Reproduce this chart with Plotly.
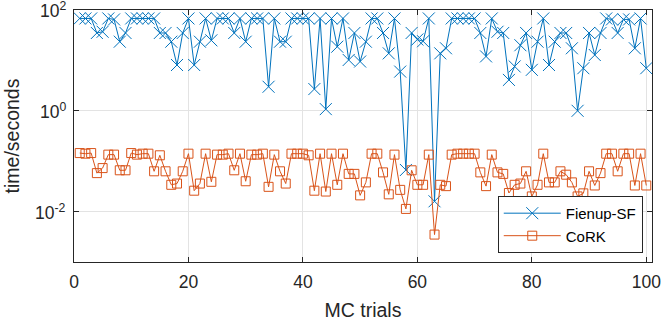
import math
import plotly.graph_objects as go

trials = list(range(1, 101))

fienup_sf = [
    68, 68, 68, 35, 37, 68, 65, 23.5, 35, 68,
    68, 68, 68, 68, 35, 35, 23.5, 8.1, 35, 68,
    8.1, 23.5, 68, 25, 68, 68, 68, 35, 68, 23.5,
    68, 68, 68, 3.0, 68, 23.5, 23.5, 68, 68, 68,
    68, 2.7, 68, 1.08, 68, 18.7, 68, 10.2, 35, 9.5,
    23.5, 68, 68, 35, 13.8, 68, 6.0, 0.067, 35, 26,
    24, 68, 0.016, 13.8, 17.4, 68, 68, 68, 68, 68,
    35, 12, 68, 37, 35, 4.1, 7.6, 20, 35, 6.5,
    23.5, 68, 8.1, 23.5, 35, 35, 17.4, 1.0, 7, 35,
    12.8, 35, 68, 65, 35, 65, 65, 17.4, 68, 7,
]

cork = [
    0.145, 0.141, 0.145, 0.058, 0.073, 0.135, 0.135, 0.066, 0.066, 0.145,
    0.135, 0.141, 0.141, 0.063, 0.131, 0.063, 0.034, 0.036, 0.063, 0.141,
    0.026, 0.036, 0.141, 0.039, 0.135, 0.135, 0.141, 0.066, 0.141, 0.040,
    0.135, 0.135, 0.141, 0.031, 0.135, 0.063, 0.036, 0.141, 0.141, 0.141,
    0.131, 0.026, 0.141, 0.025, 0.141, 0.034, 0.141, 0.056, 0.056, 0.021,
    0.038, 0.141, 0.141, 0.060, 0.022, 0.135, 0.027, 0.0113, 0.066, 0.034,
    0.034, 0.135, 0.0035, 0.034, 0.032, 0.135, 0.141, 0.141, 0.141, 0.141,
    0.060, 0.032, 0.135, 0.060, 0.056, 0.0234, 0.034, 0.036, 0.063, 0.020,
    0.034, 0.141, 0.038, 0.038, 0.063, 0.054, 0.038, 0.020, 0.023, 0.063,
    0.033, 0.058, 0.141, 0.141, 0.063, 0.141, 0.141, 0.033, 0.141, 0.033,
]

x_ticks = [0, 20, 40, 60, 80, 100]
y_ticks = [1e-2, 1e0, 1e2]
y_ticktext = ["10<sup>-2</sup>", "10<sup>0</sup>", "10<sup>2</sup>"]

BLUE = "#0072BD"
ORANGE = "#D95319"
AX = "#262626"
GRID = "#e3e3e3"
FONT = "Liberation Sans, Arial, sans-serif"

fig = go.Figure()
fig.add_trace(go.Scatter(
    x=trials, y=fienup_sf, mode="lines+markers", name="Fienup-SF",
    line=dict(color=BLUE, width=1),
    marker=dict(symbol="x-thin-open", size=12, line=dict(color=BLUE, width=1), color=BLUE),
))
fig.add_trace(go.Scatter(
    x=trials, y=cork, mode="lines+markers", name="CoRK",
    line=dict(color=ORANGE, width=1),
    marker=dict(symbol="square-open", size=9, line=dict(color=ORANGE, width=1), color=ORANGE),
))

# y tick labels as text annotations (log axis: annotation y is log10 of the value)
for val, txt in zip(y_ticks, y_ticktext):
    fig.add_annotation(
        x=0, xref="paper", y=math.log10(val), yref="y", yanchor="middle", xanchor="right",
        xshift=-6, text=txt, showarrow=False,
        font=dict(family=FONT, size=17.5, color=AX),
    )

fig.update_layout(
    width=661, height=323,
    margin=dict(l=74, r=9, t=10, b=61),
    paper_bgcolor="white", plot_bgcolor="white",
    font=dict(family=FONT, size=17.5, color=AX),
    showlegend=True,
    legend=dict(
        x=0.984, y=0.036, xanchor="right", yanchor="bottom",
        bgcolor="white", bordercolor=AX, borderwidth=1,
        font=dict(family=FONT, size=15, color="#000000"),
        itemwidth=57, tracegroupgap=0,
    ),
)
fig.update_xaxes(
    range=[0, 101], tickmode="array", tickvals=x_ticks, automargin=False,
    ticks="inside", ticklen=5, tickcolor=AX, ticklabeloverflow="allow",
    ticklabelstandoff=4,
    showline=True, linecolor=AX, linewidth=1, mirror="ticks",
    showgrid=True, gridcolor=GRID, gridwidth=1, zeroline=False,
    tickfont=dict(size=17.5, color=AX),
    title=dict(text="MC trials", font=dict(size=19.5, color=AX), standoff=12),
)
fig.update_yaxes(
    type="log", range=[-3, 2], tickmode="array", tickvals=y_ticks,
    showticklabels=False, automargin=False,
    ticks="inside", ticklen=5, tickcolor=AX,
    showline=True, linecolor=AX, linewidth=1, mirror="ticks",
    showgrid=True, gridcolor=GRID, gridwidth=1, zeroline=False,
    title=dict(text="time/seconds", font=dict(size=19.5, color=AX), standoff=48),
)

fig.write_html("out.html", config={"displayModeBar": False},
               post_script="document.body.style.margin='0';")
